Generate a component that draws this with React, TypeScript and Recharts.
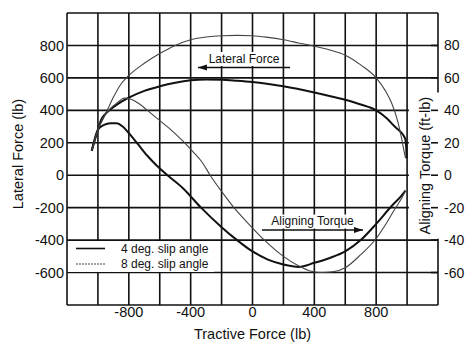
import { LineChart, Line, XAxis, YAxis, CartesianGrid, ReferenceArea, ReferenceLine, Legend } from 'recharts';

const FONT = '"Liberation Sans", Arial, Helvetica, sans-serif';
const INK = '#111';
const THIN = '#444';

// tractive force (lb): grid every 200, labels every 400
const X_GRID = [-1200, -1000, -800, -600, -400, -200, 0, 200, 400, 600, 800, 1000, 1200];
const X_LABELS = [-800, -400, 0, 400, 800];
// lateral force (lb)
const Y_GRID = [-800, -600, -400, -200, 0, 200, 400, 600, 800, 1000];
const Y_LABELS = [-600, -400, -200, 0, 200, 400, 600, 800];
// aligning torque (ft-lb)
const TORQUE_TICKS = [-60, -40, -20, 0, 20, 40, 60, 80];

// [tractive force, lateral force]
const lateral4: [number, number][] = [
  [-1040, 150], [-1000, 280], [-980, 340], [-950, 380], [-920, 405], [-870, 440], [-800, 478],
  [-700, 520], [-600, 548], [-500, 570], [-400, 585], [-300, 590], [-200, 589], [-100, 583],
  [0, 575], [200, 548], [400, 510], [600, 465], [700, 436], [800, 400], [870, 350], [920, 300],
  [960, 265], [980, 240], [990, 215], [995, 160], [997, 105],
];
const lateral8: [number, number][] = [
  [-1040, 150], [-1000, 280], [-970, 340], [-940, 400], [-900, 480], [-856, 555], [-800, 615],
  [-700, 690], [-600, 750], [-500, 800], [-400, 835], [-300, 852], [-200, 860], [-100, 862],
  [0, 860], [100, 850], [200, 835], [300, 815], [400, 795], [500, 772], [600, 740], [700, 680],
  [800, 600], [860, 520], [900, 445], [940, 330], [965, 225], [980, 150], [990, 105],
];
// [tractive force, aligning torque]
const torque4: [number, number][] = [
  [-1040, 15], [-1000, 28], [-960, 31], [-920, 32], [-880, 32], [-840, 30], [-800, 26],
  [-740, 19], [-680, 12], [-620, 6], [-550, 0], [-450, -8], [-333, -20], [-200, -32],
  [-100, -40], [0, -47], [100, -52], [200, -55], [300, -56.5], [400, -54], [500, -51],
  [600, -47], [700, -40], [800, -30], [900, -19], [960, -13], [990, -9.5],
];
const torque8: [number, number][] = [
  [-1040, 15], [-1000, 28], [-960, 36], [-920, 41], [-870, 45], [-830, 47.5], [-790, 47],
  [-740, 44.5], [-680, 40], [-617, 35], [-540, 29], [-450, 21], [-380, 14], [-326, 8],
  [-274, 0], [-200, -10], [-120, -20], [-20, -30.5], [77, -40], [200, -50], [300, -56],
  [373, -59], [450, -60], [520, -59.5], [600, -57], [700, -49], [800, -39], [870, -29],
  [920, -21], [960, -15], [990, -9.5],
];

const rows = (pts: [number, number][]) => pts.map(([f, v]) => ({ f, v }));

const tickStyle = { fill: INK, fontSize: 14.5, fontFamily: FONT };
const rightTickStyle = { fill: INK, fontSize: 14, fontFamily: FONT };
const showX = (v: number) => (X_LABELS.includes(v) ? String(v) : '');
const showY = (v: number) => (Y_LABELS.includes(v) ? String(v) : '');

function arrowShape(text: string, textWidth: number, headAtStart: boolean) {
  return (p: any) => {
    const { x1, y1, x2, y2 } = p;
    const hx = headAtStart ? x1 : x2;
    const d = headAtStart ? 1 : -1;
    const cx = (x1 + x2) / 2;
    return (
      <g>
        <rect x={cx - textWidth / 2 - 2} y={y1 - 15.5} width={textWidth + 4} height={14} fill="#fff" />
        <line x1={x1} y1={y1} x2={x2} y2={y2} stroke={INK} strokeWidth={1.6} />
        <path d={`M${hx},${y1} L${hx + d * 9},${y1 - 3} L${hx + d * 9},${y1 + 3} Z`} fill={INK} />
        <text x={cx} y={y1 - 5} textAnchor="middle" fontSize={12} fontFamily={FONT} fill={INK}>
          {text}
        </text>
      </g>
    );
  };
}

const renderLegend = () => (
  <svg width={146} height={31} style={{ display: 'block', background: '#fff' }}>
    <line x1={8} y1={7.5} x2={37} y2={7.5} stroke={INK} strokeWidth={1.6} />
    <text x={53} y={7.5} dominantBaseline="central" fontSize={12} fontFamily={FONT} fill={INK}>
      4 deg. slip angle
    </text>
    <line x1={8} y1={23} x2={37} y2={23} stroke={THIN} strokeWidth={1.2} strokeDasharray="2 1" />
    <text x={53} y={23} dominantBaseline="central" fontSize={12} fontFamily={FONT} fill={INK}>
      8 deg. slip angle
    </text>
  </svg>
);

export default function App() {
  return (
    <div style={{ position: 'absolute', left: 0, top: 0, background: '#fff', fontFamily: FONT }}>
      <LineChart width={465} height={342} margin={{ top: 13, right: 0, bottom: 0, left: 0 }}>
        <CartesianGrid stroke={INK} strokeWidth={1.6} fill="none" />
        <XAxis
          dataKey="f"
          type="number"
          domain={[-1200, 1200]}
          ticks={X_GRID}
          interval={0}
          tickFormatter={showX}
          tick={tickStyle}
          tickLine={false}
          axisLine={false}
          tickSize={0}
          tickMargin={2}
          height={37}
          allowDataOverflow
          label={{ value: 'Tractive Force (lb)', position: 'center', dy: 10, fill: INK, fontSize: 14.5, fontFamily: FONT }}
        />
        <YAxis
          type="number"
          domain={[-800, 1000]}
          ticks={Y_GRID}
          interval={0}
          tickFormatter={showY}
          tick={tickStyle}
          tickLine={false}
          axisLine={false}
          tickSize={0}
          tickMargin={3}
          width={67}
          allowDataOverflow
          label={{ value: 'Lateral Force (lb)', angle: -90, position: 'center', dx: -16, dy: -5, fill: INK, fontSize: 14.5, fontFamily: FONT }}
        />
        <ReferenceArea
          x1={1012}
          x2={1215}
          y1={-392}
          y2={510}
          ifOverflow="visible"
          fill="#fff"
          fillOpacity={1}
          stroke="none"
          label={{ value: 'Aligning Torque (ft-lb)', angle: -90, position: 'center', fill: INK, fontSize: 14.5, fontFamily: FONT }}
        />
        <YAxis
          yAxisId="torque"
          orientation="right"
          type="number"
          domain={[-80, 100]}
          ticks={TORQUE_TICKS}
          interval={0}
          tick={rightTickStyle}
          tickLine={{ stroke: INK, strokeWidth: 1.6 }}
          axisLine={false}
          tickSize={-7}
          tickMargin={13}
          width={27}
          allowDataOverflow
        />
        <Line data={rows(lateral4)} dataKey="v" name="4 deg. slip angle" type="monotone" stroke={INK} strokeWidth={2} dot={false} isAnimationActive={false} />
        <Line data={rows(lateral8)} dataKey="v" name="8 deg. slip angle" type="monotone" stroke={THIN} strokeWidth={1.1} dot={false} isAnimationActive={false} />
        <Line data={rows(torque4)} dataKey="v" yAxisId="torque" legendType="none" type="monotone" stroke={INK} strokeWidth={2} dot={false} isAnimationActive={false} />
        <Line data={rows(torque8)} dataKey="v" yAxisId="torque" legendType="none" type="monotone" stroke={THIN} strokeWidth={1.1} dot={false} isAnimationActive={false} />
        <ReferenceLine segment={[{ x: -353, y: 664 }, { x: 243, y: 664 }]} ifOverflow="visible" shape={arrowShape('Lateral Force', 71, true)} />
        <ReferenceLine segment={[{ x: 61, y: -338 }, { x: 715, y: -338 }]} ifOverflow="visible" shape={arrowShape('Aligning Torque', 85, false)} />
        <Legend
          layout="horizontal"
          verticalAlign="middle"
          align="center"
          content={renderLegend}
          wrapperStyle={{ left: 68, top: 241, width: 146, height: 31 }}
        />
      </LineChart>
    </div>
  );
}
